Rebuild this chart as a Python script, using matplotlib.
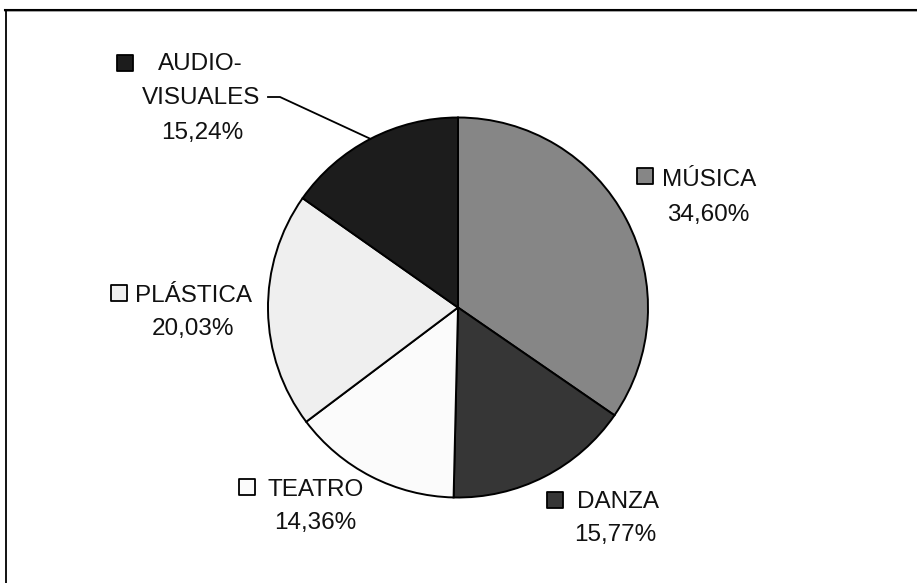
import matplotlib
matplotlib.use("Agg")
import matplotlib.pyplot as plt
import numpy as np
from matplotlib.lines import Line2D

# Data
categories = ["MÚSICA", "DANZA", "TEATRO", "PLÁSTICA", "AUDIO-\nVISUALES"]
shares = [34.60, 15.77, 14.36, 20.03, 15.24]
slice_colors = ["#868686", "#363636", "#fbfbfb", "#efefef", "#1c1c1c"]

W, H = 917, 583
fig = plt.figure(figsize=(W / 100, H / 100), dpi=100)
ax = fig.add_axes([0, 0, 1, 1])
ax.set_xlim(0, W)
ax.set_ylim(0, H)
ax.axis("off")

cx, cy, r = 458, H - 307.5, 190
wedges, _ = ax.pie(shares, colors=slice_colors, startangle=90, counterclock=False,
                   center=(cx, cy), radius=r, frame=True,
                   wedgeprops=dict(edgecolor="black", linewidth=1.4))
ax.set_xlim(0, W)
ax.set_ylim(0, H)
ax.axis("off")

font = dict(family="Liberation Sans", fontsize=17.5, color="#111111")

def pct(v):
    return f"{v:.2f}".replace(".", ",") + "%"

def py(y):
    return H - y

# label layout in pixel positions (square centre, name left/centre, pct centre)
layout = {
    0: ((645, 176), (662, 178), (708, 212)),
    1: ((555, 500), (577, 500), (615, 533)),
    2: ((247, 487), (267, 487), (315, 520)),
    3: ((119, 293), (135, 293), (193, 327)),
}
cap = 8.5
for i, (sq, nm, pc) in layout.items():
    ax.scatter([sq[0]], [py(sq[1])], marker="s", s=120, facecolor=slice_colors[i],
               edgecolor="black", linewidth=1.3, zorder=5)
    ax.text(nm[0], py(nm[1] + cap), categories[i], ha="left", va="baseline", **font)
    ax.text(pc[0], py(pc[1] + cap), pct(shares[i]), ha="center", va="baseline", **font)

# audiovisual label with leader line
first, second = categories[4].split("\n")
ax.scatter([125], [py(63)], marker="s", s=120, facecolor=slice_colors[4],
           edgecolor="black", linewidth=1.3, zorder=5)
ax.text(158, py(62 + cap), first, ha="left", va="baseline", **font)
ax.text(201, py(96 + cap), second, ha="center", va="baseline", **font)
ax.text(202, py(130 + cap), pct(shares[4]), ha="center", va="baseline", **font)

w = wedges[4]
mid = np.deg2rad((w.theta1 + w.theta2) / 2)
ex, ey = cx + r * np.cos(mid), cy + r * np.sin(mid)
ax.plot([268, 280, ex], [py(97), py(97), ey], color="black", lw=1.3, zorder=6)

# frame (top and left only, as in the cropped original)
fig.add_artist(Line2D([5 / W, 1], [1 - 10.5 / H, 1 - 10.5 / H], color="#999999", lw=1.2,
                      transform=fig.transFigure))
fig.add_artist(Line2D([5 / W, 1], [1 - 9.5 / H, 1 - 9.5 / H], color="black", lw=1.5,
                      transform=fig.transFigure))
fig.add_artist(Line2D([5.5 / W, 5.5 / W], [0, 1 - 9.5 / H], color="black", lw=1.3,
                      transform=fig.transFigure))

fig.savefig("out.png", dpi=100, facecolor="white")
